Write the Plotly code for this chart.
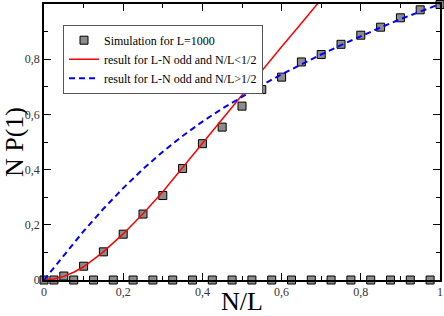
import plotly.graph_objects as go

# Simulation data (L=1000)
sim_x = [0.0, 0.05, 0.10, 0.15, 0.20, 0.25, 0.30, 0.35, 0.40, 0.45, 0.50,
         0.55, 0.60, 0.65, 0.70, 0.75, 0.80, 0.85, 0.90, 0.95, 1.0]
sim_y = [0.0, 0.0145, 0.050, 0.102, 0.166, 0.239, 0.306, 0.404, 0.494, 0.554, 0.630,
         0.690, 0.735, 0.790, 0.817, 0.854, 0.887, 0.916, 0.950, 0.979, 0.998]
sim_zero_x = [0.025, 0.075, 0.125, 0.175, 0.225, 0.275, 0.325, 0.375, 0.425, 0.475,
              0.525, 0.575, 0.625, 0.675, 0.725, 0.775, 0.825, 0.875, 0.925, 0.975]
sim_zero_y = [0.0] * len(sim_zero_x)

# Theory, N/L < 1/2 branch (red)
red_x = [0.0, 0.025, 0.05, 0.075, 0.10, 0.15, 0.20, 0.25, 0.30, 0.35, 0.40, 0.45,
         0.50, 0.55, 0.60, 0.65, 0.70]
red_y = [0.0, 0.004, 0.013, 0.028, 0.048, 0.102, 0.167, 0.240, 0.320, 0.408, 0.497,
         0.585, 0.672, 0.758, 0.845, 0.930, 1.017]

# Theory, N/L > 1/2 branch (blue dashed)
blue_x = [0.0, 0.05, 0.10, 0.15, 0.20, 0.25, 0.30, 0.35, 0.40, 0.45, 0.50,
          0.55, 0.60, 0.65, 0.70, 0.75, 0.80, 0.85, 0.90, 0.95, 1.0]
blue_y = [0.0, 0.090, 0.177, 0.258, 0.333, 0.402, 0.465, 0.522, 0.574, 0.621, 0.665,
          0.706, 0.745, 0.782, 0.817, 0.851, 0.884, 0.915, 0.945, 0.973, 1.0]

tick_vals = [0, 0.2, 0.4, 0.6, 0.8, 1]
tick_text = ["0", "0,2", "0,4", "0,6", "0,8", "1"]

SERIF = "Liberation Serif"
marker_style = dict(symbol="square", size=8, color="#8c8c8c",
                    line=dict(color="black", width=1))

fig = go.Figure()
fig.add_trace(go.Scatter(x=sim_x, y=sim_y, mode="markers", marker=marker_style,
                         name="Simulation for L=1000", cliponaxis=False))
fig.add_trace(go.Scatter(x=sim_zero_x, y=sim_zero_y, mode="markers", marker=marker_style,
                         showlegend=False, cliponaxis=False))
fig.add_trace(go.Scatter(x=red_x, y=red_y, mode="lines",
                         line=dict(color="red", width=1.5),
                         name="result for L-N odd and N/L<1/2"))
fig.add_trace(go.Scatter(x=blue_x, y=blue_y, mode="lines",
                         line=dict(color="blue", width=2, dash="6px,4px"),
                         name="result for L-N odd and N/L>1/2"))

axis_common = dict(
    range=[0, 1], showgrid=False, zeroline=False, showline=True, linecolor="black",
    linewidth=1.5, mirror="allticks", ticks="inside", ticklen=7, tickwidth=1,
    tickcolor="black", tickvals=tick_vals, ticktext=tick_text, automargin=False,
    tickfont=dict(family=SERIF, size=12, color="#333"),
    minor=dict(ticks="inside", ticklen=4, dtick=0.1, tickcolor="black", showgrid=False),
)

fig.update_layout(
    width=444, height=316,
    margin=dict(l=44, r=4, t=4, b=36),
    paper_bgcolor="white", plot_bgcolor="white",
    font=dict(family=SERIF),
    xaxis=dict(axis_common, title=dict(text="N/L", font=dict(family=SERIF, size=26, color="black"), standoff=0)),
    yaxis=dict(axis_common, title=dict(text="N P(1)", font=dict(family=SERIF, size=26, color="black"), standoff=0)),
    legend=dict(x=0.048, y=0.925, xanchor="left", yanchor="top",
                bgcolor="white", bordercolor="#555", borderwidth=1,
                font=dict(family=SERIF, size=12, color="black"),
                itemwidth=30, tracegroupgap=0),
    showlegend=True,
)

fig.write_html("out.html", config={"displayModeBar": False},
               post_script="document.body.style.margin='0';document.body.style.overflow='hidden';")
